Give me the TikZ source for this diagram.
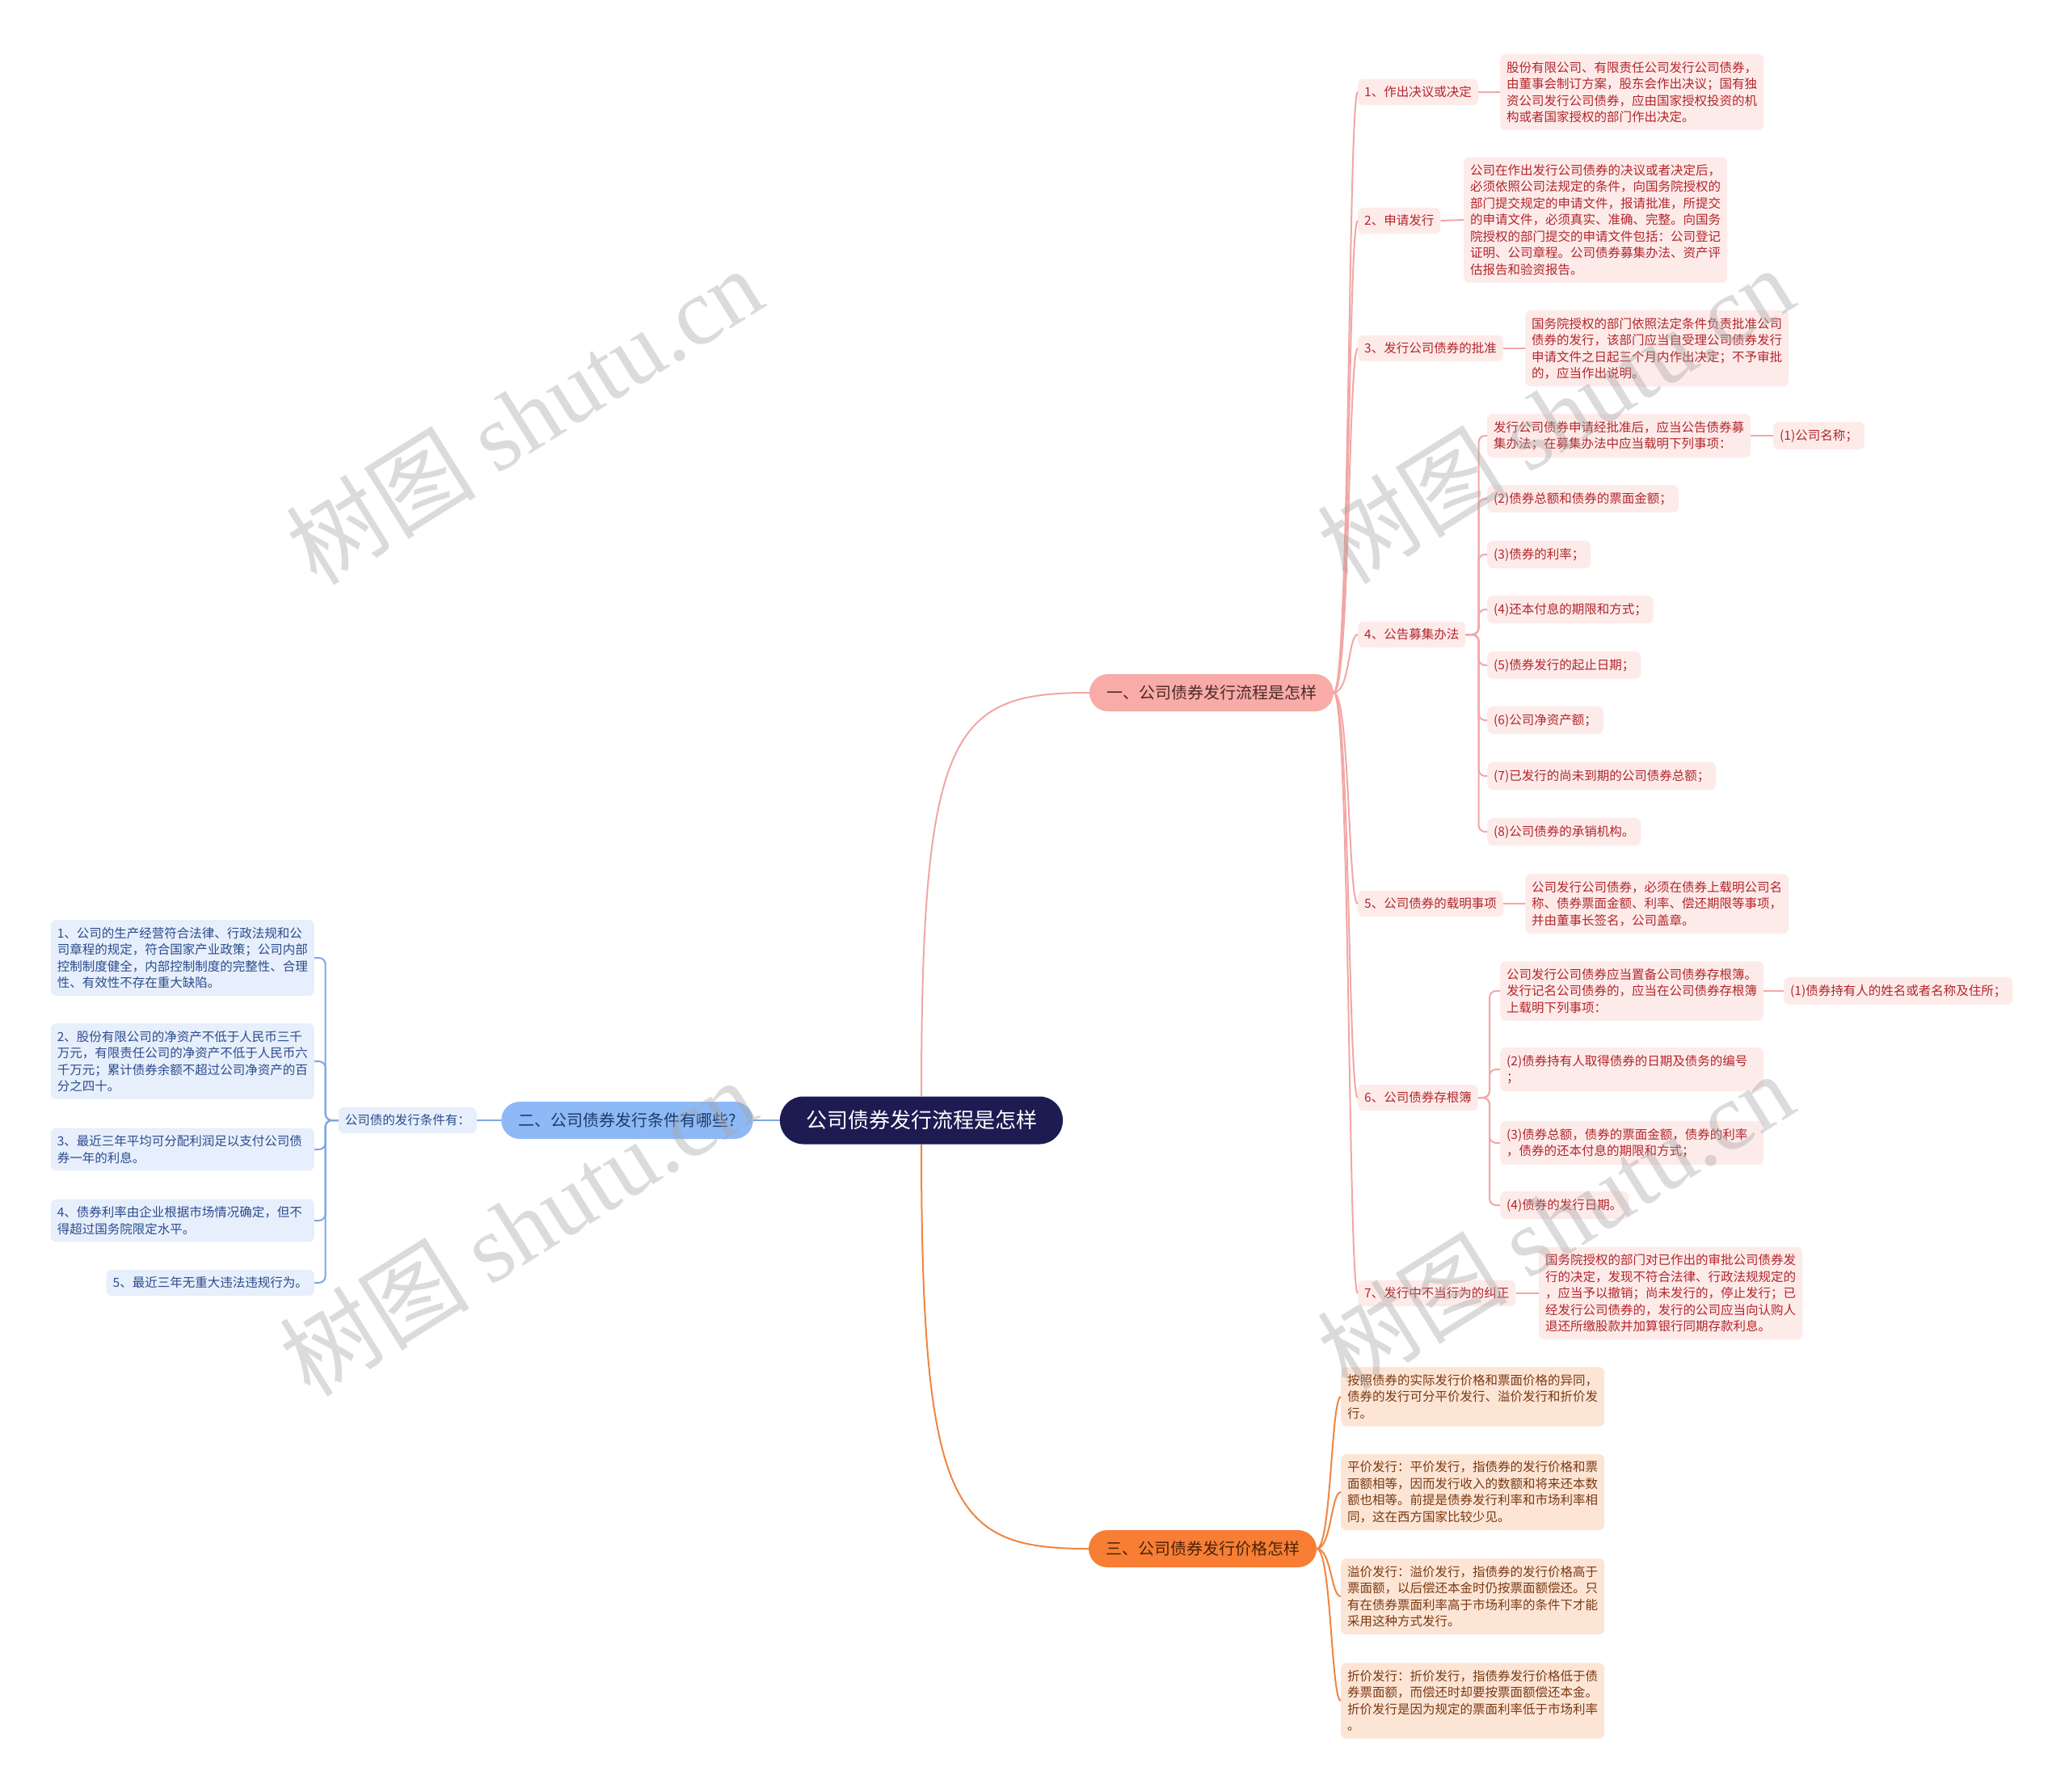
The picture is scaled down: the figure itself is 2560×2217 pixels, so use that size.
\documentclass[tikz,border=0pt]{standalone}
\usepackage{fontspec}
\setmainfont{Noto Sans CJK SC}
\newfontfamily\markfont{Liberation Serif}

\definecolor{rootcol}{HTML}{1E1B52}
\definecolor{pinkfill}{HTML}{F8ABA7}
\definecolor{pinkline}{HTML}{F2A7A5}
\definecolor{pinkpale}{HTML}{FDEBEA}
\definecolor{pinktext}{HTML}{B3262B}
\definecolor{pinkdark}{HTML}{4D2A2A}
\definecolor{bluefill}{HTML}{8DB9F6}
\definecolor{blueline}{HTML}{7FA7E2}
\definecolor{bluepale}{HTML}{E7EFFC}
\definecolor{bluetext}{HTML}{2B4C8C}
\definecolor{bluedark}{HTML}{1F3A66}
\definecolor{orangefill}{HTML}{F77E34}
\definecolor{orangeline}{HTML}{EE8640}
\definecolor{orangepale}{HTML}{FDE5D6}
\definecolor{orangetext}{HTML}{7A3A12}
\definecolor{orangedark}{HTML}{4A2308}

\begin{document}
\begin{tikzpicture}[x=1pt,y=-1pt,
    rootbox/.style={rounded corners=29pt, fill=rootcol, text=white, minimum height=59pt,
      inner xsep=32pt, font=\fontsize{26}{30}\selectfont},
    topicbox/.style={rounded corners=23pt, minimum height=46pt, inner xsep=21pt,
      font=\fontsize{20}{24}\selectfont},
    subbox/.style={rounded corners=7pt, fill=pinkpale, text=pinktext, inner xsep=8pt,
      inner ysep=9pt, font=\fontsize{15.5}{20.5}\selectfont},
    notebox/.style={subbox, text width=310pt, align=left},
    bluebox/.style={subbox, fill=bluepale, text=bluetext},
    bluenote/.style={notebox, fill=bluepale, text=bluetext},
    orangenote/.style={notebox, fill=orangepale, text=orangetext},
    pinkedge/.style={draw=pinkline, line width=2pt},
    blueedge/.style={draw=blueline, line width=2pt},
    orangeedge/.style={draw=orangeline, line width=2pt},
    wmark/.style={rotate=32, text=black!35, opacity=0.4, font=\fontsize{118}{118}\selectfont}
  ]
  \fill[white] (0,0) rectangle (2560,2217);
  \useasboundingbox (0,0) rectangle (2560,2217);

  \node[rootbox] (root) at (1140,1386) {公司债券发行流程是怎样};
  \node[topicbox, fill=pinkfill, text=pinkdark] (t1) at (1499,857) {一、公司债券发行流程是怎样};
  \node[topicbox, fill=bluefill, text=bluedark] (t2) at (776,1386) {二、公司债券发行条件有哪些?};
  \node[topicbox, fill=orangefill, text=orangedark] (t3) at (1488,1916) {三、公司债券发行价格怎样};

  % topic 1
  \node[subbox, anchor=west] (s1) at (1680,114) {1、作出决议或决定};
  \node[subbox, anchor=west] (s2) at (1680,273) {2、申请发行};
  \node[subbox, anchor=west] (s3) at (1680,431) {3、发行公司债券的批准};
  \node[subbox, anchor=west] (s4) at (1680,785) {4、公告募集办法};
  \node[subbox, anchor=west] (s5) at (1680,1118) {5、公司债券的载明事项};
  \node[subbox, anchor=west] (s6) at (1680,1358) {6、公司债券存根簿};
  \node[subbox, anchor=west] (s7) at (1680,1600) {7、发行中不当行为的纠正};

  \node[notebox, anchor=west] (n1) at (1856,114) {股份有限公司、有限责任公司发行公司债券，\\由董事会制订方案，股东会作出决议；国有独\\资公司发行公司债券，应由国家授权投资的机\\构或者国家授权的部门作出决定。};
  \node[notebox, anchor=west] (n2) at (1811,272) {公司在作出发行公司债券的决议或者决定后，\\必须依照公司法规定的条件，向国务院授权的\\部门提交规定的申请文件，报请批准，所提交\\的申请文件，必须真实、准确、完整。向国务\\院授权的部门提交的申请文件包括：公司登记\\证明、公司章程。公司债券募集办法、资产评\\估报告和验资报告。};
  \node[notebox, anchor=west] (n3) at (1887,431) {国务院授权的部门依照法定条件负责批准公司\\债券的发行，该部门应当自受理公司债券发行\\申请文件之日起三个月内作出决定；不予审批\\的，应当作出说明。};
  \node[notebox, anchor=west] (n5) at (1887,1118) {公司发行公司债券，必须在债券上载明公司名\\称、债券票面金额、利率、偿还期限等事项，\\并由董事长签名，公司盖章。};
  \node[notebox, anchor=west] (n7) at (1904,1600) {国务院授权的部门对已作出的审批公司债券发\\行的决定，发现不符合法律、行政法规规定的\\，应当予以撤销；尚未发行的，停止发行；已\\经发行公司债券的，发行的公司应当向认购人\\退还所缴股款并加算银行同期存款利息。};

  \node[notebox, anchor=west] (i1) at (1840,539) {发行公司债券申请经批准后，应当公告债券募\\集办法；在募集办法中应当载明下列事项：};
  \node[subbox, anchor=west] (i1a) at (2194,539) {(1)公司名称；};
  \node[subbox, anchor=west] (i2) at (1840,617) {(2)债券总额和债券的票面金额；};
  \node[subbox, anchor=west] (i3) at (1840,686) {(3)债券的利率；};
  \node[subbox, anchor=west] (i4) at (1840,754) {(4)还本付息的期限和方式；};
  \node[subbox, anchor=west] (i5) at (1840,823) {(5)债券发行的起止日期；};
  \node[subbox, anchor=west] (i6) at (1840,891) {(6)公司净资产额；};
  \node[subbox, anchor=west] (i7) at (1840,960) {(7)已发行的尚未到期的公司债券总额；};
  \node[subbox, anchor=west] (i8) at (1840,1029) {(8)公司债券的承销机构。};

  \node[notebox, anchor=west] (j1) at (1856,1226) {公司发行公司债券应当置备公司债券存根簿。\\发行记名公司债券的，应当在公司债券存根簿\\上载明下列事项：};
  \node[subbox, anchor=west] (j1a) at (2207,1226) {(1)债券持有人的姓名或者名称及住所；};
  \node[notebox, anchor=west] (j2) at (1856,1323) {(2)债券持有人取得债券的日期及债务的编号\\；};
  \node[notebox, anchor=west] (j3) at (1856,1414) {(3)债券总额，债券的票面金额，债券的利率\\，债券的还本付息的期限和方式；};
  \node[subbox, anchor=west] (j4) at (1856,1491) {(4)债券的发行日期。};

  % topic 2
  \node[bluebox, anchor=east] (cond) at (590,1386) {公司债的发行条件有：};
  \node[bluenote, anchor=east] (c1) at (389,1185) {1、公司的生产经营符合法律、行政法规和公\\司章程的规定，符合国家产业政策；公司内部\\控制制度健全，内部控制制度的完整性、合理\\性、有效性不存在重大缺陷。};
  \node[bluenote, anchor=east] (c2) at (389,1313) {2、股份有限公司的净资产不低于人民币三千\\万元，有限责任公司的净资产不低于人民币六\\千万元；累计债券余额不超过公司净资产的百\\分之四十。};
  \node[bluenote, anchor=east] (c3) at (389,1422) {3、最近三年平均可分配利润足以支付公司债\\券一年的利息。};
  \node[bluenote, anchor=east] (c4) at (389,1510) {4、债券利率由企业根据市场情况确定，但不\\得超过国务院限定水平。};
  \node[bluebox, anchor=east] (c5) at (389,1587) {5、最近三年无重大违法违规行为。};

  % topic 3
  \node[orangenote, anchor=west] (p1) at (1659,1728) {按照债券的实际发行价格和票面价格的异同，\\债券的发行可分平价发行、溢价发行和折价发\\行。};
  \node[orangenote, anchor=west] (p2) at (1659,1846) {平价发行：平价发行，指债券的发行价格和票\\面额相等，因而发行收入的数额和将来还本数\\额也相等。前提是债券发行利率和市场利率相\\同，这在西方国家比较少见。};
  \node[orangenote, anchor=west] (p3) at (1659,1975) {溢价发行：溢价发行，指债券的发行价格高于\\票面额，以后偿还本金时仍按票面额偿还。只\\有在债券票面利率高于市场利率的条件下才能\\采用这种方式发行。};
  \node[orangenote, anchor=west] (p4) at (1659,2104) {折价发行：折价发行，指债券发行价格低于债\\券票面额，而偿还时却要按票面额偿还本金。\\折价发行是因为规定的票面利率低于市场利率\\。};

  % connectors
  \draw[pinkedge] (root.north) .. controls (1140,900) and (1180,857) .. (t1.west);
  \draw[orangeedge] (root.south) .. controls (1140,1870) and (1180,1916) .. (t3.west);
  \draw[blueedge] (root.west) -- (t2.east);
  \draw[blueedge] (t2.west) -- (cond.east);

  \foreach \n in {s1,s2,s3,s4,s5,s6,s7}
    \draw[pinkedge] (t1.east) to[out=0, in=180, out distance=20pt, in distance=12pt] (\n.west);
  \foreach \a/\b in {s1/n1, s2/n2, s3/n3, s5/n5, s7/n7, i1/i1a, j1/j1a}
    \draw[pinkedge] (\a.east) -- (\b.west);
  \foreach \n in {i1,i2,i3,i4,i5,i6,i7,i8}
    \draw[pinkedge, rounded corners=8pt] (s4.east) -- ++(16,0) |- (\n.west);
  \foreach \n in {j1,j2,j3,j4}
    \draw[pinkedge, rounded corners=8pt] (s6.east) -- ++(14,0) |- (\n.west);
  \foreach \n in {c1,c2,c3,c4,c5}
    \draw[blueedge, rounded corners=8pt] (cond.west) -- ++(-16,0) |- (\n.east);
  \foreach \n in {p1,p2,p3,p4}
    \draw[orangeedge] (t3.east) to[out=0, in=180, out distance=18pt, in distance=12pt] (\n.west);

  % watermark
  \foreach \x/\y/\k in {648/514/1, 1924/513/2, 640/1518/3, 1924/1510/4}
    \node[wmark] (wm\k) at (\x,\y) {树图 {\markfont shutu.cn}};
\end{tikzpicture}
\end{document}
